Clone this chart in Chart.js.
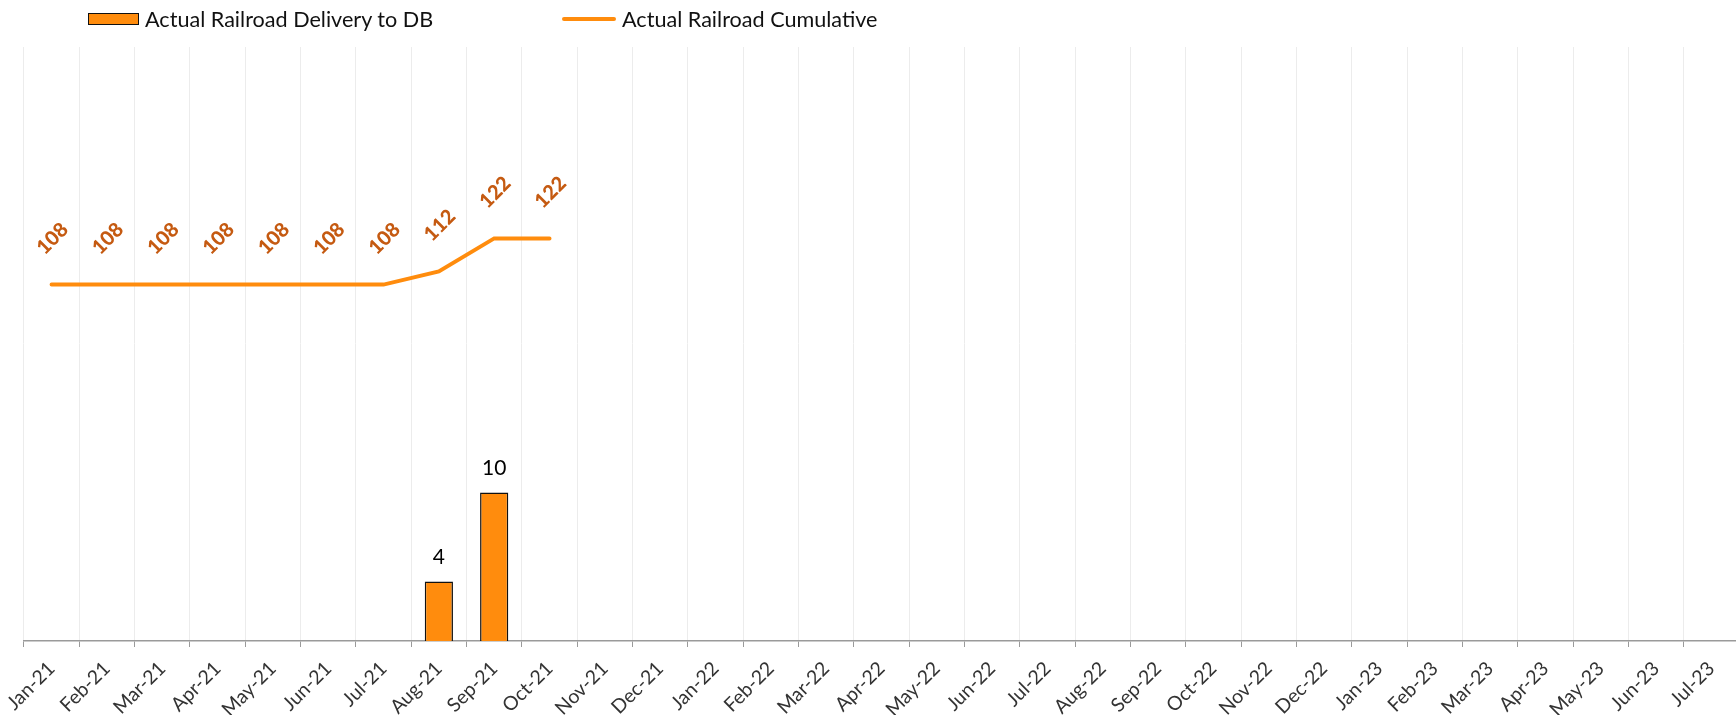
<!DOCTYPE html>
<html>
<head>
<meta charset="utf-8">
<script src="https://cdn.jsdelivr.net/npm/chart.js@4.4.1/dist/chart.umd.min.js"></script>
<style>
  body { margin: 0; overflow: hidden; background: #fff; font-family: Lato, sans-serif; }
  #wrap { position: absolute; left: 0; top: 0; width: 1740px; height: 715px; }
  #legend { position: absolute; left: 0; top: 0; width: 1000px; height: 40px; }
  .lg-item { position: absolute; top: 6px; height: 26px; display: flex; align-items: center; font-size: 21.6px; color: #111; white-space: nowrap; }
  .lg-box { width: 49px; height: 10px; border: 1.5px solid #111; margin-right: 6px; }
  .lg-line { width: 54px; height: 4px; border-radius: 2px; margin-right: 6px; }
</style>
</head>
<body>
<div id="wrap">
  <canvas id="myChart" width="1740" height="715"></canvas>
  <div id="legend"></div>
</div>
<script>
const months = ['Jan-21', 'Feb-21', 'Mar-21', 'Apr-21', 'May-21', 'Jun-21', 'Jul-21', 'Aug-21', 'Sep-21', 'Oct-21', 'Nov-21', 'Dec-21',
    'Jan-22', 'Feb-22', 'Mar-22', 'Apr-22', 'May-22', 'Jun-22', 'Jul-22', 'Aug-22', 'Sep-22', 'Oct-22', 'Nov-22', 'Dec-22',
    'Jan-23', 'Feb-23', 'Mar-23', 'Apr-23', 'May-23', 'Jun-23', 'Jul-23'];
const deliveries = [null, null, null, null, null, null, null, 4, 10, null];
const cumulative = [108, 108, 108, 108, 108, 108, 108, 112, 122, 122];

const orange = '#FF8C0D';
const labelOrange = '#C55A11';

// draws the value labels above bars and line points
const valueLabels = {
    id: 'valueLabels',
    afterDatasetsDraw(chart) {
        const ctx = chart.ctx;
        chart.data.datasets.forEach(function (ds, i) {
            const meta = chart.getDatasetMeta(i);
            meta.data.forEach(function (el, j) {
                const v = ds.data[j];
                if (v === null || v === undefined) return;
                ctx.save();
                ctx.textAlign = 'center';
                ctx.textBaseline = 'middle';
                if (ds.type === 'line') {
                    ctx.font = '900 20px Lato';
                    ctx.fillStyle = labelOrange;
                    ctx.translate(el.x + 1, el.y - 46);
                    ctx.rotate(-Math.PI / 4);
                    ctx.fillText(v, 0, 0);
                } else {
                    ctx.font = '21px Lato';
                    ctx.fillStyle = '#000';
                    ctx.fillText(v, el.x, el.y - 24);
                }
                ctx.restore();
            });
        });
    }
};

const ctx = document.getElementById('myChart');

const chart = new Chart(ctx, {
    data: {
        labels: months,
        datasets: [{
            type: 'line',
            label: 'Actual Railroad Cumulative',
            data: cumulative,
            borderColor: orange,
            backgroundColor: orange,
            borderWidth: 4,
            pointRadius: 0,
            tension: 0,
            borderCapStyle: 'round',
            yAxisID: 'y2'
        }, {
            type: 'bar',
            label: 'Actual Railroad Delivery to DB',
            data: deliveries,
            backgroundColor: orange,
            borderColor: '#111',
            borderWidth: 1.5,
            categoryPercentage: 1,
            barPercentage: 0.51,
            yAxisID: 'y'
        }]
    },
    options: {
        responsive: false,
        animation: false,
        devicePixelRatio: 1,
        layout: { padding: { top: 47, left: 23, right: 1, bottom: 0 } },
        plugins: {
            legend: { display: false },
            tooltip: { enabled: false }
        },
        scales: {
            x: {
                offset: true,
                grid: { offset: true, color: '#ececec', lineWidth: 1, tickLength: 6, tickColor: '#9a9a9a' },
                border: { color: '#9a9a9a', width: 1.5 },
                ticks: {
                    autoSkip: false,
                    minRotation: 45,
                    maxRotation: 45,
                    padding: 10,
                    color: '#333',
                    font: { family: 'Lato', size: 19.5 }
                },
                afterFit: function (scale) { scale.height = 74; }
            },
            y: { display: false, min: 0, max: 40 },
            y2: { display: false, min: 0, max: 180, position: 'right' }
        }
    },
    plugins: [valueLabels]
});

// html legend built from the datasets
const legendEl = document.getElementById('legend');
const legendOrder = [1, 0];
const legendLeft = [88, 562];
legendOrder.forEach(function (idx, k) {
    const ds = chart.data.datasets[idx];
    const item = document.createElement('div');
    item.className = 'lg-item';
    item.style.left = legendLeft[k] + 'px';
    const mark = document.createElement('div');
    if (ds.type === 'bar') {
        mark.className = 'lg-box';
        mark.style.background = ds.backgroundColor;
    } else {
        mark.className = 'lg-line';
        mark.style.background = ds.borderColor;
    }
    item.appendChild(mark);
    const txt = document.createElement('span');
    txt.textContent = ds.label;
    item.appendChild(txt);
    legendEl.appendChild(item);
});
</script>
</body>
</html>
